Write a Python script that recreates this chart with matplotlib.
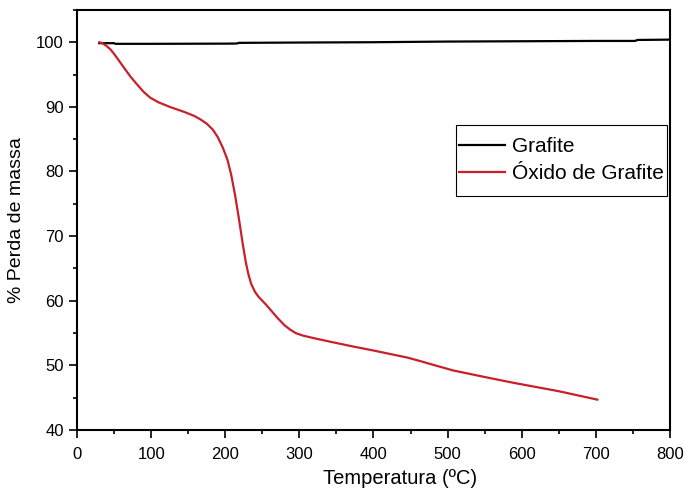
import matplotlib.pyplot as plt
from matplotlib.patches import Rectangle
from matplotlib.ticker import MultipleLocator

plt.rcParams['font.family'] = ['Liberation Sans', 'DejaVu Sans']

# Grafite
temp_grafite = [30, 50, 52, 100, 200, 216, 218, 300, 400, 500, 600, 700, 753, 756, 800]
massa_grafite = [99.85, 99.85, 99.75, 99.75, 99.78, 99.8, 99.9, 99.95, 100.0, 100.1, 100.15,
                 100.2, 100.2, 100.35, 100.4]

# Óxido de Grafite
temp_oxido = [30, 35, 40, 45, 50, 55, 60, 65, 72, 80, 90, 99, 110, 125, 145, 158, 166, 175,
              183, 190, 197, 203, 208, 213, 218, 224, 228, 231, 235, 240, 245, 255, 270, 280,
              288, 295, 305, 320, 340, 369, 400, 425, 446, 465, 480, 508, 550, 589, 650, 702]
massa_oxido = [100.0, 99.8, 99.4, 98.9, 98.2, 97.4, 96.6, 95.8, 94.7, 93.6, 92.3, 91.4, 90.7,
               90.0, 89.2, 88.6, 88.1, 87.4, 86.5, 85.3, 83.6, 81.8, 79.5, 76.5, 73.0, 68.5,
               65.8, 64.2, 62.6, 61.4, 60.6, 59.4, 57.4, 56.2, 55.5, 55.0, 54.6, 54.2, 53.7,
               53.0, 52.3, 51.7, 51.2, 50.6, 50.1, 49.2, 48.2, 47.3, 46.0, 44.7]

fig = plt.figure(figsize=(6.84, 4.95), dpi=100)
ax = fig.add_axes([0.1126, 0.1313, 0.8669, 0.8487])

ax.plot(temp_grafite, massa_grafite, color='black', linewidth=1.6, label='Grafite')
ax.plot(temp_oxido, massa_oxido, color='#c8202a', linewidth=1.6, label='Óxido de Grafite')

ax.set_xlim(0, 800)
ax.set_ylim(40, 105)
ax.xaxis.set_major_locator(MultipleLocator(100))
ax.xaxis.set_minor_locator(MultipleLocator(50))
ax.yaxis.set_major_locator(MultipleLocator(10))
ax.yaxis.set_minor_locator(MultipleLocator(5))
ax.tick_params(which='both', direction='out', top=False, right=False, labelsize=12, width=1.2)
ax.tick_params(which='major', length=6)
ax.tick_params(which='minor', length=3)
ax.tick_params(axis='x', pad=6)
for s in ax.spines.values():
    s.set_linewidth(1.5)

ax.set_xlabel('Temperatura (ºC)', fontsize=14.5)
ax.set_ylabel('% Perda de massa', fontsize=14)
ax.xaxis.set_label_coords(0.545, -0.093)
ax.yaxis.set_label_coords(-0.088, 0.5)

# legenda: mais espaço em cima/baixo que nos lados, então a moldura é desenhada à parte
leg = ax.legend(loc='upper right', bbox_to_anchor=(1.010, 0.727), fontsize=15,
                frameon=False, handlelength=2.2, borderpad=0.6,
                labelspacing=0.4, handletextpad=0.3, borderaxespad=0)
fig.canvas.draw()
bb = leg.get_window_extent()
shrink = 9
frame = Rectangle((bb.x0 + shrink, bb.y0), bb.width - 2 * shrink, bb.height,
                  transform=None, fill=False, edgecolor='black', linewidth=0.8)
fig.add_artist(frame)

fig.savefig('out.png', dpi=100)
